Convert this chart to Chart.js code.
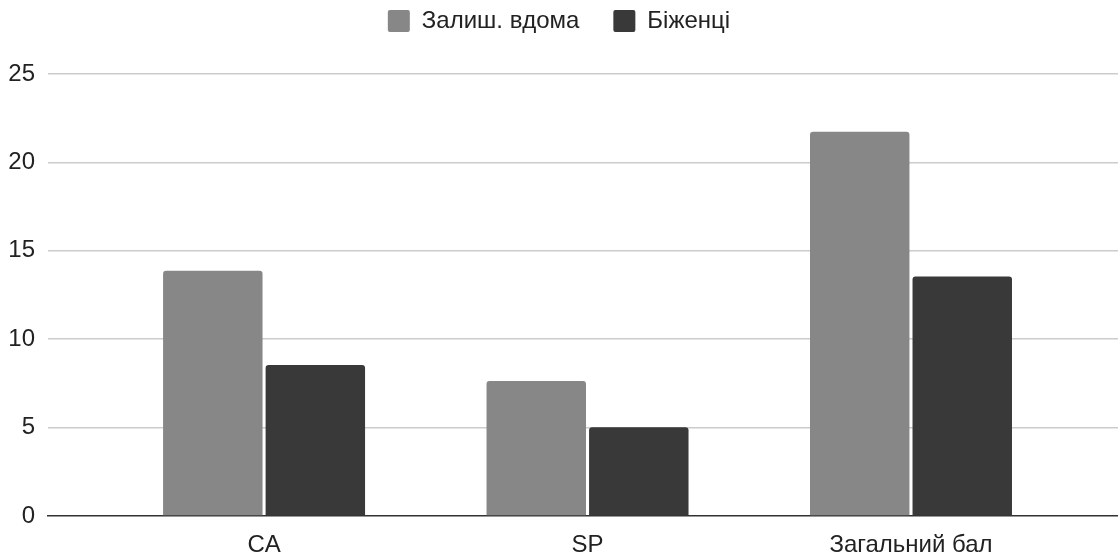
<!DOCTYPE html>
<html>
<head>
<meta charset="utf-8">
<script src="https://cdn.jsdelivr.net/npm/chart.js@4"></script>
<style>
  body { margin: 0; background: #fff; }
  #wrap { width: 1118px; height: 553px; }
</style>
</head>
<body>
<div id="wrap"><canvas id="chart"></canvas></div>
<script>
let categories = ["CA", "SP", "Загальний бал"];
let stayedHome = [13.87, 7.64, 21.74];
let refugees = [8.54, 5.02, 13.54];
let yTicks = [0, 5, 10, 15, 20, 25];
let seriesNames = ["Залиш. вдома", "Біженці"];

let font = "Arial, 'Liberation Sans', sans-serif";
let fontSize = 24;

// legend needs extra room under it, google style
const legendSpacer = {
    id: "legendSpacer",
    beforeInit(chart) {
        let origFit = chart.legend.fit;
        chart.legend.fit = function () {
            origFit.call(this);
            this.height = 99;
        };
    }
};

let ctx = document.getElementById("chart").getContext("2d");
let chart = new Chart(ctx, {
    type: "bar",
    data: {
        datasets: [{
            label: seriesNames[0],
            data: categories.map((c, i) => ({ x: i, y: stayedHome[i] })),
            backgroundColor: "#878787",
            borderWidth: 0,
            borderRadius: 3
        }, {
            label: seriesNames[1],
            data: categories.map((c, i) => ({ x: i, y: refugees[i] })),
            backgroundColor: "#393939",
            borderWidth: 0,
            borderRadius: 3
        }]
    },
    plugins: [legendSpacer],
    options: {
        responsive: true,
        maintainAspectRatio: false,
        animation: false,
        categoryPercentage: 0.634,
        barPercentage: 0.97,
        layout: { padding: { top: -25, right: 0, bottom: 0, left: 0 } },
        plugins: {
            legend: {
                position: "top",
                labels: {
                    font: { family: font, size: fontSize },
                    color: "#222",
                    boxWidth: 22,
                    boxHeight: 22,
                    padding: 34,
                    useBorderRadius: true,
                    borderRadius: 2
                }
            },
            tooltip: { enabled: false }
        },
        scales: {
            x: {
                type: "linear",
                min: -0.668,
                max: 2.64,
                offset: false,
                z: 1,
                afterFit: scale => { scale.height = 37; },
                grid: { display: false, drawTicks: false },
                border: { display: true, color: "#333", width: 1.5 },
                afterBuildTicks: scale => {
                    scale.ticks = categories.map((c, i) => ({ value: i }));
                },
                ticks: {
                    padding: 15,
                    maxRotation: 0,
                    autoSkip: false,
                    color: "#222",
                    font: { family: font, size: fontSize },
                    callback: v => categories[v] ?? ""
                }
            },
            y: {
                min: 0,
                max: 25,
                afterFit: scale => { scale.width = 48; },
                afterBuildTicks: scale => {
                    scale.ticks = yTicks.map(v => ({ value: v }));
                },
                grid: {
                    drawTicks: false,
                    color: c => c.tick && c.tick.value === 0 ? "rgba(0,0,0,0)" : "#cccccc",
                    lineWidth: 1.5
                },
                border: { display: false },
                ticks: {
                    padding: 13,
                    color: "#222",
                    font: { family: font, size: fontSize }
                }
            }
        }
    }
});
</script>
</body>
</html>
